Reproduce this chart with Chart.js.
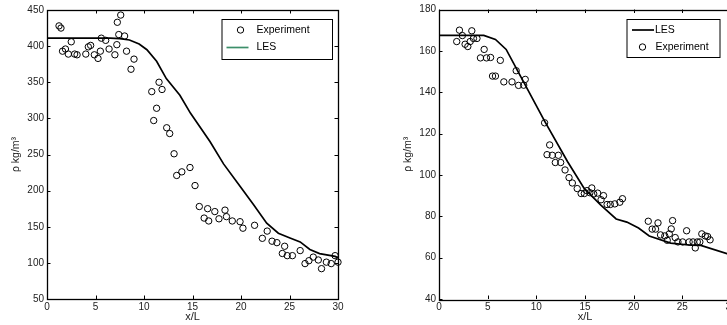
<!DOCTYPE html>
<html>
<head>
<meta charset="utf-8">
<script src="https://cdn.jsdelivr.net/npm/chart.js@4.4.1/dist/chart.umd.min.js"></script>
<style>
  html, body { margin: 0; padding: 0; background: #fff; width: 727px; height: 325px; overflow: hidden; }
  canvas { position: absolute; top: 0; }
  #left-chart { left: 0; }
  #right-chart { left: 392px; }
</style>
</head>
<body>
<canvas id="left-chart" width="360" height="325"></canvas>
<canvas id="right-chart" width="361" height="325"></canvas>
<script>
// ---- data ----
const xTicks = [0, 5, 10, 15, 20, 25, 30];

// left panel
const leftExpX = [1.24, 1.44, 1.6, 1.9, 2.2, 2.5, 2.85, 3.1, 4.0, 4.26, 4.5, 4.88, 5.26, 5.5, 5.6, 6.05, 6.4, 7.0, 7.2, 7.25, 7.4, 7.6, 8.0, 8.2, 8.66, 8.97,
  10.8, 11.0, 11.3, 11.55, 11.86, 12.34, 12.65, 13.1, 13.37, 13.9, 14.74, 15.26, 15.7, 16.2, 16.56, 16.67, 17.3, 17.73, 18.35, 18.5, 19.1, 19.9, 20.2,
  21.4, 22.2, 22.7, 23.2, 23.7, 24.26, 24.5, 24.77, 25.3, 26.1, 26.6, 27.0, 27.45, 27.97, 28.3, 28.8, 29.3, 29.7, 30.0];
const leftExpY = [428, 425, 393, 396, 389, 406, 389, 388, 389, 399, 401, 388, 383, 393, 411, 408, 396, 388, 402, 433, 416, 443, 414, 393, 368, 382,
  337, 297, 314, 350, 340, 287, 279, 251, 221, 226, 232, 207, 178, 162, 175, 158, 171, 161, 173, 164, 158, 157, 148,
  152, 134, 144, 130, 128, 113, 123, 110, 110, 117, 99, 103, 108, 104, 92, 101, 99, 110, 101];
const leftLesX = [0, 6.5, 7.5, 8.5, 9.5, 10.3, 11.3, 12.3, 13.7, 14.8, 16.8, 18.2, 19.9, 21.3, 22.65, 23.85, 25.05, 26.1, 27.1, 28.1, 29.7, 30];
const leftLesY = [411, 411, 410.5, 408.5, 403, 395, 379, 355, 332, 307, 268, 237, 206, 180.5, 155, 141, 134.5, 129, 118.5, 112.8, 109, 107];
const leftYTicks = [50, 100, 150, 200, 250, 300, 350, 400, 450];

// right panel
const rightExpX = [1.82, 2.1, 2.4, 2.68, 2.96, 3.2, 3.37, 3.54, 3.9, 4.26, 4.64, 4.88, 5.3, 5.5, 5.8, 6.3, 6.66, 7.5, 7.93, 8.17, 8.7, 8.86,
  10.85, 11.1, 11.37, 11.64, 11.95, 12.26, 12.5, 12.95, 13.36, 13.7, 14.2, 14.6, 14.93, 15.2, 15.5, 15.7, 15.9, 16.3, 16.65, 16.9, 17.27, 17.6, 18.06, 18.58, 18.85,
  21.5, 21.9, 22.25, 22.5, 22.76, 23.2, 23.45, 23.66, 23.86, 24.0, 24.27, 24.55, 25.03, 25.44, 25.7, 26.1, 26.33, 26.54, 26.8, 27.0, 27.36, 27.6, 27.85];
const rightExpY = [164.5, 170, 167.4, 163.2, 162.1, 164.5, 169.7, 166, 166, 156.6, 160.7, 156.6, 156.8, 147.8, 147.8, 155.4, 145, 145, 150.4, 143.3, 143.4, 146.2,
  125.2, 109.8, 114.5, 109.5, 106, 109.5, 106, 102.4, 98.7, 96.1, 93.4, 91, 91, 92.4, 91.4, 93.7, 90.8, 91.2, 88, 90, 85.7, 85.7, 86, 86.8, 88.5,
  77.6, 73.8, 73.8, 76.8, 71, 70.5, 68.4, 71.5, 73.9, 77.9, 69.7, 67.6, 67.6, 73, 67.6, 67.6, 64.7, 67.6, 67.6, 71.5, 70.5, 70.2, 68.6];
const rightLesX = [0, 4.6, 5.8, 6.9, 8.0, 10.85, 13.2, 14.9, 16.6, 18.2, 19.3, 20.5, 21.6, 23.8, 25.9, 26.9, 30];
const rightLesY = [167.5, 167.5, 165.5, 160.7, 151, 126, 106.5, 93.6, 85.5, 78.7, 77.2, 74.3, 70.5, 67, 66, 65.9, 61.3];
const rightYTicks = [40, 60, 80, 100, 120, 140, 160, 180];

const FONT = "'Liberation Sans', Arial, sans-serif";
const TEXT = "#222";

function toPoints(xs, ys) {
  return xs.map((x, i) => ({ x: x, y: ys[i] }));
}

// MATLAB style box with inward ticks on all four sides, plus the boxed legend
const matlabFrame = {
  id: "matlabFrame",
  afterDatasetsDraw(chart, args, opts) {
    const ctx = chart.ctx;
    const a = chart.chartArea;
    const xs = chart.scales.x, ys = chart.scales.y;
    const len = 3.5;
    ctx.save();
    ctx.strokeStyle = "#000";
    ctx.lineWidth = 1;
    ctx.beginPath();
    xs.ticks.forEach(t => {
      const px = Math.round(xs.getPixelForValue(t.value)) + 0.5;
      ctx.moveTo(px, a.bottom); ctx.lineTo(px, a.bottom - len);
      ctx.moveTo(px, a.top); ctx.lineTo(px, a.top + len);
    });
    ys.ticks.forEach(t => {
      const py = Math.round(ys.getPixelForValue(t.value)) + 0.5;
      ctx.moveTo(a.left, py); ctx.lineTo(a.left + len, py);
      ctx.moveTo(a.right, py); ctx.lineTo(a.right - len, py);
    });
    ctx.stroke();
    ctx.lineWidth = 1.3;
    ctx.strokeRect(Math.round(a.left) + 0.5, Math.round(a.top) + 0.5,
      Math.round(a.right - a.left), Math.round(a.bottom - a.top));

    // legend box
    const lg = opts.legend;
    ctx.fillStyle = "#fff";
    ctx.fillRect(lg.x, lg.y, lg.w, lg.h);
    ctx.lineWidth = 1;
    ctx.strokeStyle = "#000";
    ctx.strokeRect(lg.x + 0.5, lg.y + 0.5, lg.w, lg.h);
    ctx.font = "10.5px " + FONT;
    ctx.textBaseline = "middle";
    lg.items.forEach(it => {
      const cy = lg.y + it.dy;
      if (it.kind === "line") {
        ctx.strokeStyle = it.color;
        ctx.lineWidth = 1.7;
        ctx.beginPath();
        ctx.moveTo(lg.x + it.x0, cy); ctx.lineTo(lg.x + it.x1, cy);
        ctx.stroke();
      } else {
        ctx.strokeStyle = it.color;
        ctx.lineWidth = 1;
        ctx.beginPath();
        ctx.arc(lg.x + it.x0, cy, 3.2, 0, Math.PI * 2);
        ctx.stroke();
      }
      ctx.fillStyle = "#000";
      ctx.fillText(it.label, lg.x + it.tx, cy);
    });
    ctx.restore();
  }
};

function makeChart(id, expX, expY, lesX, lesY, yMin, yMax, yStep, topPad, legend) {
  const ctx = document.getElementById(id).getContext("2d");
  return new Chart(ctx, {
    type: "scatter",
    data: {
      datasets: [
        {
          label: "Experiment",
          data: toPoints(expX, expY),
          showLine: false,
          pointStyle: "circle",
          pointRadius: 3.2,
          pointBorderWidth: 1,
          borderColor: "#000",
          backgroundColor: "rgba(0,0,0,0)",
          clip: false,
        },
        {
          label: "LES",
          data: toPoints(lesX, lesY),
          showLine: true,
          borderColor: "#000",
          borderWidth: 1.7,
          pointRadius: 0,
          tension: 0,
          fill: false,
        },
      ],
    },
    options: {
      responsive: false,
      animation: false,
      devicePixelRatio: 1,
      layout: { padding: { top: topPad, right: 22, left: 0, bottom: 0 } },
      plugins: {
        legend: { display: false },
        tooltip: { enabled: false },
        matlabFrame: { legend: legend },
      },
      scales: {
        x: {
          type: "linear",
          min: 0,
          max: 30,
          afterBuildTicks: s => { s.ticks = xTicks.map(v => ({ value: v })); },
          afterFit: s => { s.height = 26; },
          grid: { display: false, drawTicks: false },
          border: { display: false },
          ticks: { color: TEXT, padding: 2, maxRotation: 0, font: { family: FONT, size: 10 } },
          title: { display: true, text: "x/L", color: TEXT, padding: { top: 0, bottom: 1 }, font: { family: FONT, size: 11 } },
        },
        y: {
          type: "linear",
          min: yMin,
          max: yMax,
          ticks: { stepSize: yStep, color: TEXT, padding: 3, font: { family: FONT, size: 10 } },
          afterFit: s => { s.width = 47; },
          grid: { display: false, drawTicks: false },
          border: { display: false },
          title: { display: true, text: "ρ kg/m³", color: TEXT, padding: { top: 10, bottom: 0 }, font: { family: FONT, size: 10.5 } },
        },
      },
    },
    plugins: [matlabFrame],
  });
}

makeChart("left-chart", leftExpX, leftExpY, leftLesX, leftLesY, leftYTicks[0], leftYTicks[leftYTicks.length - 1], 50, 10, {
  x: 221.5, y: 19, w: 110.5, h: 40,
  items: [
    { label: "Experiment", kind: "marker", color: "#000", x0: 19, tx: 35, dy: 11 },
    { label: "LES", kind: "line", color: "#3c8f6a", x0: 5, x1: 27, tx: 35, dy: 28.5 },
  ],
});

makeChart("right-chart", rightExpX, rightExpY, rightLesX, rightLesY, rightYTicks[0], rightYTicks[rightYTicks.length - 1], 20, 9.5, {
  x: 234.5, y: 19, w: 93, h: 38,
  items: [
    { label: "LES", kind: "line", color: "#000", x0: 5.5, x1: 27.5, tx: 28.5, dy: 11 },
    { label: "Experiment", kind: "marker", color: "#000", x0: 16, tx: 29, dy: 28 },
  ],
});
</script>
</body>
</html>
